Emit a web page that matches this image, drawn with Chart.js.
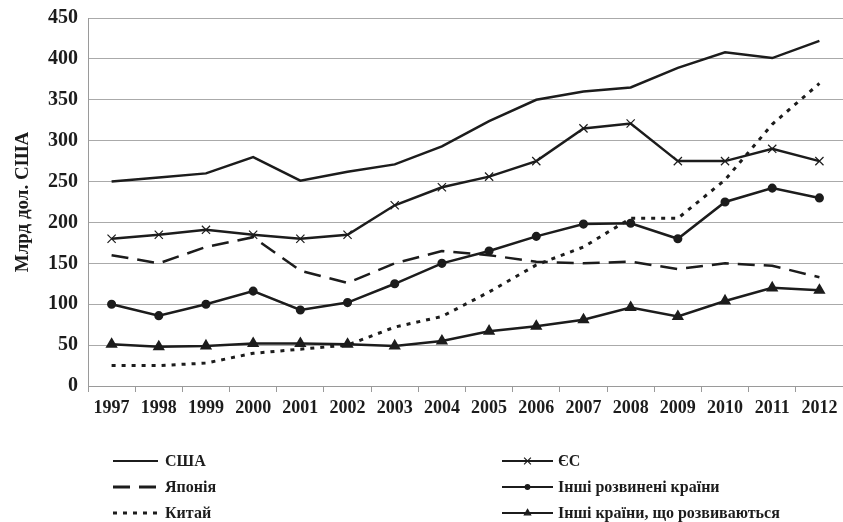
<!DOCTYPE html>
<html>
<head>
<meta charset="utf-8">
<script src="https://cdn.jsdelivr.net/npm/chart.js@4"></script>
<style>
    html, body { margin: 0; padding: 0; background: #fff; }
    #chart { display: block; }
</style>
</head>
<body>
<canvas id="chart" width="843" height="522"></canvas>
<script>
const years = ['1997', '1998', '1999', '2000', '2001', '2002', '2003', '2004',
    '2005', '2006', '2007', '2008', '2009', '2010', '2011', '2012'];

const usa = [250, 255, 260, 280, 251, 262, 271, 293, 324, 350, 360, 365, 389, 408, 401, 422];
const eu = [180, 185, 191, 185, 180, 185, 221, 243, 256, 275, 315, 321, 275, 275, 290, 275];
const japan = [160, 150, 170, 182, 141, 126, 150, 165, 160, 152, 150, 152, 143, 150, 147, 133];
const otherDeveloped = [100, 86, 100, 116, 93, 102, 125, 150, 165, 183, 198, 199, 180, 225, 242, 230];
const china = [25, 25, 28, 40, 45, 50, 72, 85, 115, 148, 170, 205, 205, 252, 320, 370];
const otherDeveloping = [51, 48, 49, 52, 52, 51, 49, 55, 67, 73, 81, 96, 85, 104, 120, 117];

const ink = '#1c1c1c';
const serif = "'Liberation Serif', 'Times New Roman', serif";

function series(label, data, extra) {
    return Object.assign({
        label: label,
        data: data,
        borderColor: ink,
        backgroundColor: ink,
        borderWidth: 2.5,
        pointRadius: 0,
        pointBorderColor: ink,
        pointBackgroundColor: ink,
        tension: 0
    }, extra);
}

// legend slots: [column, row]
const legendSlots = [[0, 0], [1, 0], [0, 1], [1, 1], [0, 2], [1, 2]];

const sideLegend = {
    id: 'sideLegend',
    afterDraw(chart) {
        const ctx = chart.ctx;
        const rowsY = [461, 487, 513];
        const cols = [{ x0: 113, x1: 158, tx: 165 }, { x0: 502, x1: 553, tx: 558 }];
        chart.data.datasets.forEach((ds, i) => {
            const slot = legendSlots[i];
            const col = cols[slot[0]];
            const y = rowsY[slot[1]];
            ctx.save();
            ctx.strokeStyle = ink;
            ctx.lineWidth = ds.borderDash ? 3 : 2;
            ctx.setLineDash(ds.borderDash || []);
            ctx.beginPath();
            ctx.moveTo(col.x0, y);
            ctx.lineTo(col.x1, y);
            ctx.stroke();
            ctx.setLineDash([]);
            if (ds.pointStyle && ds.pointRadius > 0) {
                ctx.fillStyle = ink;
                ctx.strokeStyle = ink;
                ctx.lineWidth = 1.2;
                Chart.helpers.drawPoint(ctx, {
                    pointStyle: ds.pointStyle,
                    radius: ds.pointRadius - 1,
                    rotation: 0,
                    borderWidth: 1.2
                }, (col.x0 + col.x1) / 2, y);
            }
            ctx.fillStyle = ink;
            ctx.font = 'bold 16px ' + serif;
            ctx.textBaseline = 'middle';
            ctx.textAlign = 'left';
            ctx.fillText(ds.label, col.tx, y + 1);
            ctx.restore();
        });
    }
};

const ctx = document.getElementById('chart').getContext('2d');
new Chart(ctx, {
    type: 'line',
    data: {
        labels: years,
        datasets: [
            series('США', usa),
            series('ЄС', eu, { pointStyle: 'crossRot', pointRadius: 5.8, pointBorderWidth: 1.2, pointBackgroundColor: '#fff' }),
            series('Японія', japan, { borderDash: [17, 9] }),
            series('Інші розвинені країни', otherDeveloped, { pointStyle: 'circle', pointRadius: 3.3 }),
            series('Китай', china, { borderDash: [4, 6], borderWidth: 3 }),
            series('Інші країни, що розвиваються', otherDeveloping, { pointStyle: 'triangle', pointRadius: 4.6 })
        ]
    },
    options: {
        responsive: false,
        animation: false,
        layout: { autoPadding: false, padding: { top: 18, right: 0, bottom: 96, left: 0 } },
        plugins: {
            legend: { display: false },
            tooltip: { enabled: false }
        },
        scales: {
            x: {
                offset: true,
                grid: {
                    offset: true,
                    drawOnChartArea: false,
                    drawTicks: true,
                    tickLength: 6,
                    color: '#9a9a9a'
                },
                border: { color: '#9a9a9a' },
                ticks: {
                    color: ink,
                    padding: 6,
                    maxRotation: 0,
                    autoSkip: false,
                    font: { family: serif, size: 18, weight: 'bold' }
                },
                afterFit(scale) {
                    scale.height = 40;
                    scale.paddingLeft = 0;
                    scale.paddingRight = 0;
                }
            },
            y: {
                min: 0,
                max: 450,
                ticks: {
                    stepSize: 50,
                    color: ink,
                    padding: 10,
                    font: { family: serif, size: 20, weight: 'bold' }
                },
                grid: { color: '#aaaaaa', drawTicks: false },
                border: { color: '#9a9a9a' },
                title: {
                    display: true,
                    text: 'Млрд дол. США',
                    color: ink,
                    padding: { top: 12, bottom: 0 },
                    font: { family: serif, size: 19, weight: 'bold' }
                },
                afterFit(scale) {
                    scale.width = 88;
                    scale.paddingTop = 0;
                    scale.paddingBottom = 0;
                }
            }
        }
    },
    plugins: [sideLegend]
});
</script>
</body>
</html>
